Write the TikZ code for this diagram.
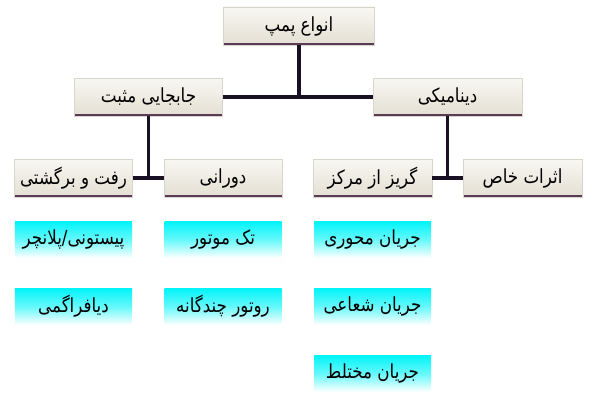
\documentclass[tikz,border=0pt]{standalone}
\usepackage{fontspec}
\newfontfamily\arabicfont[Script=Arabic,FakeStretch=0.86]{DejaVu Sans}
\TeXXeTstate=1
\usetikzlibrary{calc}
\definecolor{boxtop}{HTML}{F8F7F2}
\definecolor{boxbot}{HTML}{E3DFD2}
\definecolor{boxedge}{HTML}{5A3A55}
\definecolor{boxside}{HTML}{D8D5CC}
\definecolor{linkc}{HTML}{1A1024}
\definecolor{cyantop}{HTML}{00F4F8}
\tikzset{
  x=1bp, y=1bp,
  catbox/.style={rectangle, inner sep=0pt, minimum height=38bp,
    top color=boxtop, bottom color=boxbot, draw=boxside, line width=0.4bp,
    font=\arabicfont\fontsize{19.5}{22}\selectfont,
    path picture={\draw[boxedge, line width=2bp]
      ([yshift=1bp]path picture bounding box.south west) -- ([yshift=1bp]path picture bounding box.south east);}},
  leafbox/.style={rectangle, inner sep=0pt, minimum width=117bp, minimum height=37bp,
    top color=cyantop, bottom color=white, middle color=cyantop!60!white,
    font=\arabicfont\fontsize{19.5}{22}\selectfont},
  link/.style={draw=linkc, line width=3.5bp},
}
\newcommand{\rtl}[1]{\beginR #1\endR}
\begin{document}
\begin{tikzpicture}
\useasboundingbox (0,0) rectangle (600,400);
% top
\node[catbox, minimum width=151bp] (top) at (299,374) {\rtl{انواع پمپ}};
% level 2
\node[catbox, minimum width=148bp] (pos) at (148.5,303) {\rtl{جابجایی مثبت}};
\node[catbox, minimum width=149bp] (dyn) at (447.5,303) {\rtl{دینامیکی}};
% level 3
\node[catbox, minimum width=118bp] (rec) at (73.5,222) {\rtl{رفت و برگشتی}};
\node[catbox, minimum width=118bp] (rot) at (223,222) {\rtl{دورانی}};
\node[catbox, minimum width=119bp] (cen) at (372.5,222) {\rtl{گریز از مرکز}};
\node[catbox, minimum width=119bp] (spe) at (522.5,222) {\rtl{اثرات خاص}};
% leaves
\node[leafbox] (pis) at (73.5,160.5) {\rtl{پیستونی/پلانچر}};
\node[leafbox] (dia) at (73.5,93.5) {\rtl{دیافراگمی}};
\node[leafbox] (one) at (223,160.5) {\rtl{تک موتور}};
\node[leafbox] (multi) at (223,93.5) {\rtl{روتور چندگانه}};
\node[leafbox] (axi) at (372.5,160.5) {\rtl{جریان محوری}};
\node[leafbox] (rad) at (372.5,93.5) {\rtl{جریان شعاعی}};
\node[leafbox] (mix) at (372.5,26.5) {\rtl{جریان مختلط}};
% connectors
\draw[link] (pos.east) -- (dyn.west);
\draw[link] (top.south) -- (top.south |- pos.east);
\draw[link] (rec.east) -- (rot.west);
\draw[link] (pos.south) -- (pos.south |- rec.east);
\draw[link] (cen.east) -- (spe.west);
\draw[link] (dyn.south) -- (dyn.south |- cen.east);
\end{tikzpicture}
\end{document}
